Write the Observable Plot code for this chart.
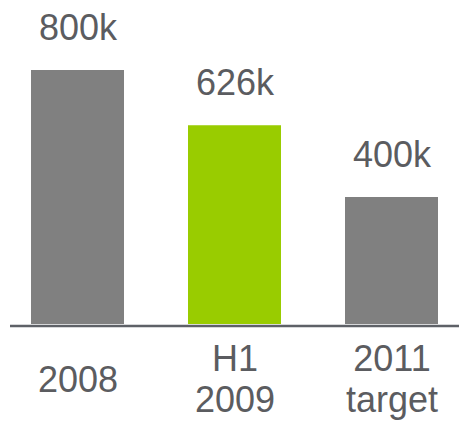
<!DOCTYPE html>
<html>
<head>
<meta charset="utf-8">
<script src="https://cdn.jsdelivr.net/npm/d3@7"></script>
<script src="https://cdn.jsdelivr.net/npm/@observablehq/plot@0.6"></script>
<style>
  html, body { margin: 0; padding: 0; background: #fff; }
  #chart { width: 459px; height: 423px; }
  #chart svg, #chart svg text { font-family: "Liberation Sans", Arial, sans-serif !important; }
</style>
</head>
<body>
<div id="chart"></div>
<script>
const categories = ["2008", "H1\n2009", "2011\ntarget"];
const values = [800, 626, 400];
const valueLabels = ["800k", "626k", "400k"];
const barColors = ["#808080", "#99cc00", "#808080"];

const data = categories.map((c, i) => ({
  category: c,
  value: values[i],
  label: valueLabels[i],
  color: barColors[i]
}));

const textColor = "#5b5c60";
const font = "'Liberation Sans', Arial, sans-serif";

const chart = Plot.plot({
  width: 459,
  height: 423,
  marginLeft: 31,
  marginRight: 21,
  marginTop: 70,
  marginBottom: 99,
  style: { fontFamily: font, background: "#fff" },
  x: { domain: categories, paddingInner: 0.408, paddingOuter: 0, label: null },
  y: { domain: [0, 800], axis: null },
  marks: [
    Plot.barY(data, { x: "category", y: "value", fill: "color" }),
    Plot.ruleY([0], { stroke: "#5e6167", strokeWidth: 2.3, dy: 1.5, insetLeft: -21, insetRight: -21 }),
    Plot.text(data, {
      x: "category", y: "value", text: "label",
      dy: -31, lineAnchor: "bottom", fontSize: 36, fontFamily: font, fill: textColor
    }),
    Plot.axisX({
      tickSize: 0, tickPadding: 54, lineAnchor: "middle", lineHeight: 1.14,
      fontSize: 36, fontFamily: font, color: textColor, label: null
    })
  ]
});

document.getElementById("chart").appendChild(chart);
</script>
</body>
</html>
